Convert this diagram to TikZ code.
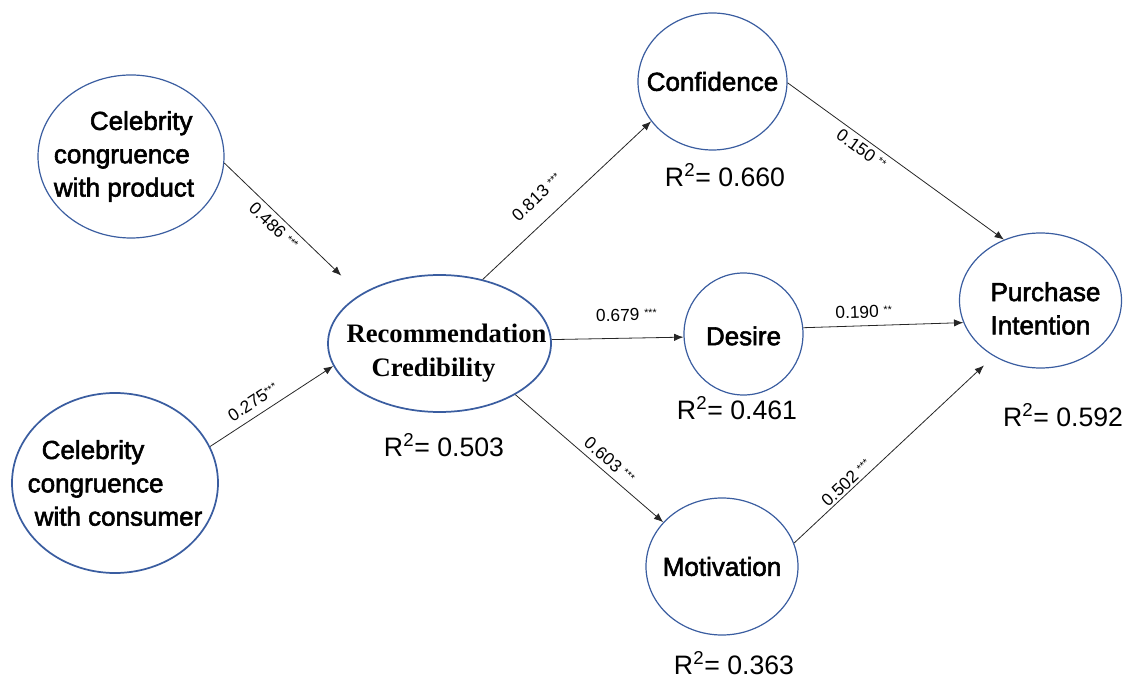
\documentclass[tikz,border=0pt]{standalone}
\usepackage{fontspec}
\usepackage{tikz}
\usetikzlibrary{shapes.geometric,arrows.meta}
\setmainfont{Liberation Sans}
\newfontfamily\latfont{Liberation Sans}[FakeBold=2.2]
\newfontfamily\recfont{Liberation Serif}
\definecolor{ellblue}{RGB}{58,93,160}
\newcommand{\sig}[1]{\raisebox{0.4ex}{\fontsize{8}{8}\selectfont#1}}

\begin{document}
\begin{tikzpicture}[x=0.75pt,y=-0.75pt,>={Latex[length=7pt,width=5.5pt]},
    latent/.style={ellipse,draw=ellblue,line width=0.9pt,inner sep=-50pt,align=left,
        font=\latfont\fontsize{19.5}{25}\selectfont},
    link/.style={->,draw=black!85,line width=0.6pt},
    coef/.style={sloped,inner sep=0pt,font=\fontsize{13}{14}\selectfont},
    rsq/.style={inner sep=0pt,font=\fontsize{20}{22}\selectfont}]
        \useasboundingbox (0,0) rectangle (1124,680);
        % latent variables
        \node[latent,minimum width=139.5pt,minimum height=122.25pt](prod) at (131,156.5)
            {\hspace*{27pt}Celebrity\\congruence\\with product\hspace*{10.5pt}};
        \node[latent,line width=1.3pt,minimum width=154.5pt,minimum height=135pt](cons) at (115,483)
            {\hspace*{10.5pt}Celebrity\\congruence\\\hspace*{5.25pt}with consumer};
        \node[latent,line width=1.3pt,minimum width=167.25pt,minimum height=102.75pt,
            font=\recfont\bfseries\fontsize{20}{25.5}\selectfont](rec) at (439.5,343.5)
            {\rule{0pt}{28.5pt}\hspace*{10.5pt}Recommendation\\\hspace*{29.25pt}Credibility};
        \node[latent,minimum width=111.75pt,minimum height=102.75pt](conf) at (712.5,81.5){Confidence};
        \node[latent,minimum width=89.25pt,minimum height=91.5pt](des) at (743.5,334){\rule{0pt}{17pt}Desire};
        \node[latent,minimum width=114pt,minimum height=102.75pt](mot) at (722,566.5){Motivation};
        \node[latent,minimum width=121.5pt,minimum height=101.25pt](pur) at (1040.5,300.5)
            {\rule{0pt}{26pt}\hspace*{7.5pt}Purchase\\\hspace*{7.5pt}Intention};
        % R^2 values
        \node[rsq](rrec) at (444,445){R\textsuperscript{2}= 0.503};
        \node[rsq](rconf) at (725,175){R\textsuperscript{2}= 0.660};
        \node[rsq](rdes) at (737,408){R\textsuperscript{2}= 0.461};
        \node[rsq](rmot) at (734,663){R\textsuperscript{2}= 0.363};
        \node[rsq](rpur) at (1063,415){R\textsuperscript{2}= 0.592};
        % paths
        \draw[link,shorten >=20pt](prod.-4)--(rec.148)node[coef,below=3.5pt,pos=0.42](c1){0.486 \sig{***}};
        \draw[link](cons.21)--(rec.192)node[coef,above=5.5pt,pos=0.41](c2){0.275\sig{***}};
        \draw[link](rec.56)--(conf.213)node[coef,above=12.5pt,pos=0.415](c3){0.813 \sig{***}};
        \draw[link](rec.2)--(des.183)node[coef,above=12.5pt,pos=0.57](c4){0.679 \sig{***}};
        \draw[link](rec.-34)--(mot.143)node[coef,above=4pt,pos=0.585](c5){0.603 \sig{***}};
        \draw[link](conf.-1)--(pur.121)node[coef,below=3pt,pos=0.37](c6){0.150 \sig{**}};
        \draw[link](des.6)--(pur.196)node[coef,above=5.5pt,pos=0.38](c7){0.190 \sig{**}};
        \draw[link,shorten >=10pt](mot.18)--(pur.230)node[coef,above=1.5pt,pos=0.29](c8){0.502 \sig{***}};
    \end{tikzpicture}
\end{document}
